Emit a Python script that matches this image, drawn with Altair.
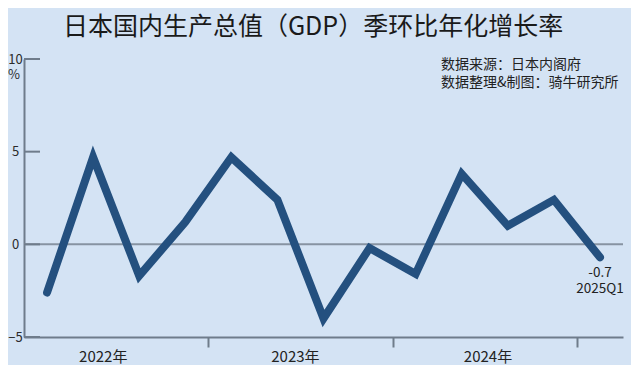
import altair as alt
import pandas as pd

quarters = ["2022Q1", "2022Q2", "2022Q3", "2022Q4",
            "2023Q1", "2023Q2", "2023Q3", "2023Q4",
            "2024Q1", "2024Q2", "2024Q3", "2024Q4",
            "2025Q1"]
growth = [-2.6, 4.7, -1.7, 1.2, 4.7, 2.4, -4.0, -0.2, -1.6, 3.8, 1.0, 2.4, -0.7]

year_labels = ["2022年", "2023年", "2024年"]
year_label_pos = [1.22, 5.39, 9.57]
year_ticks = [3.5, 7.5, 11.5]
y_ticks = [-5, 0, 5, 10]

title_text = "日本国内生产总值（GDP）季环比年化增长率"
source_lines = ["数据来源：日本内阁府", "数据整理&制图：骑牛研究所"]

BG = "#d4e3f4"
LINE = "#24507f"
AXIS = "#6f7c8b"
FONT = "Noto Sans CJK SC"

df = pd.DataFrame({"i": list(range(len(quarters))), "q": quarters, "v": growth})
df["lbl"] = [f"{v:.1f}" for v in growth]

xs = alt.Scale(domain=[-0.5, 12.5], nice=False, zero=False)
ys = alt.Scale(domain=[-5, 10], nice=False, zero=False)

base = alt.Chart(df)

zero_line = alt.Chart(pd.DataFrame({"y": [0]})).mark_rule(
    color="#8793a2", strokeWidth=2
).encode(y=alt.Y("y:Q", scale=ys), x=alt.value(0), x2=alt.value(599))

ytick_rules = alt.Chart(pd.DataFrame({"y": y_ticks})).mark_rule(
    color=AXIS, strokeWidth=2
).encode(y=alt.Y("y:Q", scale=ys), x=alt.value(0), x2=alt.value(16))

line = base.mark_line(
    color=LINE, strokeWidth=8, strokeCap="round", strokeJoin="miter"
).encode(
    x=alt.X("i:Q", scale=xs,
            axis=alt.Axis(values=year_ticks, labels=False, title=None, grid=False,
                          domainColor=AXIS, domainWidth=2, tickColor=AXIS,
                          tickWidth=2, tickSize=10)),
    y=alt.Y("v:Q", scale=ys,
            axis=alt.Axis(values=y_ticks, title=None, grid=False, ticks=False,
                          domainColor=AXIS, domainWidth=2, labelFontSize=13,
                          labelColor="#2b2b2b", labelFont=FONT, labelPadding=9,
                          labelAlign="center")),
)

last = base.transform_filter(alt.datum.i == len(quarters) - 1)
last_val = last.mark_text(fontSize=13.5, font=FONT, color="#222222", dy=16).encode(
    x=alt.X("i:Q", scale=xs), y=alt.Y("v:Q", scale=ys), text="lbl:N")
last_q = last.mark_text(fontSize=13.5, font=FONT, color="#222222", dy=32).encode(
    x=alt.X("i:Q", scale=xs), y=alt.Y("v:Q", scale=ys), text="q:N")

years = alt.Chart(pd.DataFrame({"x": year_label_pos, "t": year_labels})).mark_text(
    fontSize=15, font=FONT, color="#222222", baseline="middle"
).encode(x=alt.X("x:Q", scale=xs), y=alt.value(298), text="t:N")

pct = alt.Chart(pd.DataFrame({"t": ["%"]})).mark_text(
    fontSize=13, font=FONT, color="#2b2b2b", align="center", baseline="middle"
).encode(x=alt.value(-10), y=alt.value(16), text="t:N")

title = alt.Chart(pd.DataFrame({"t": [title_text]})).mark_text(
    fontSize=25, font=FONT, color="#1a1a1a", align="center", baseline="middle"
).encode(x=alt.value(289), y=alt.value(-32), text="t:N")

source = alt.Chart(pd.DataFrame({"t": source_lines, "y": [6, 24]})).mark_text(
    fontSize=14, font=FONT, color="#222222", align="left", baseline="middle"
).encode(x=alt.value(417), y=alt.Y("y:Q", scale=None), text="t:N")

chart = alt.layer(
    zero_line, ytick_rules, line, last_val, last_q, years, pct, title, source
).properties(
    width=599, height=278,
    padding={"left": 16, "top": 51, "right": 8, "bottom": 28},
    autosize=alt.AutoSizeParams(type="none"),
    background=BG,
).configure_view(stroke=None, fill=BG)

chart.save("out.html", embed_options={"renderer": "svg", "actions": False})
